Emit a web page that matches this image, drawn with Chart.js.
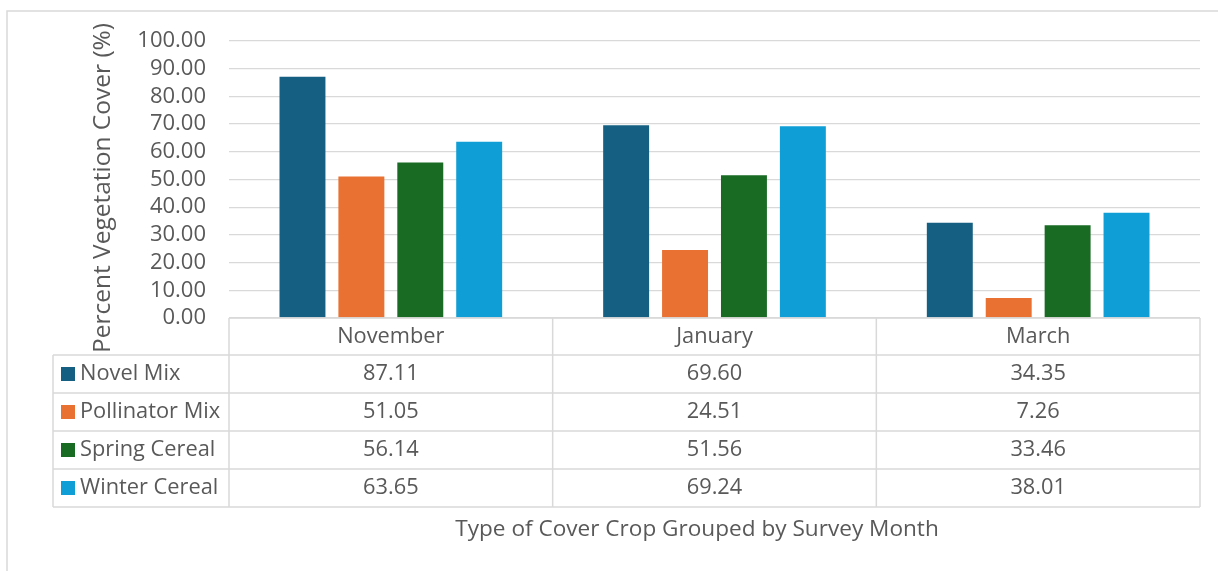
<!DOCTYPE html>
<html lang="en">
<head>
  <meta charset="UTF-8">
  <title>Percent Vegetation Cover</title>
  <script src="https://cdn.jsdelivr.net/npm/chart.js"></script>
  <style>
    html, body { margin: 0; padding: 0; background: #fff; }
    canvas { display: block; }
  </style>
</head>
<body>
  <canvas id="coverChart" width="1218" height="571"></canvas>

  <script>
    // Survey months (categories) and one array per cover crop type
    const months = ['November', 'January', 'March'];
    const seriesNames = ['Novel Mix', 'Pollinator Mix', 'Spring Cereal', 'Winter Cereal'];
    const novelMix = [87.11, 69.60, 34.35];
    const pollinatorMix = [51.05, 24.51, 7.26];
    const springCereal = [56.14, 51.56, 33.46];
    const winterCereal = [63.65, 69.24, 38.01];
    const seriesColors = ['#156082', '#E97132', '#196B24', '#0F9ED5'];

    const yTitle = 'Percent Vegetation Cover (%)';
    const xTitle = 'Type of Cover Crop Grouped by Survey Month';

    const FONT = '"Open Sans", "DejaVu Sans", sans-serif';
    const TEXT = '#595959';
    const LINE = '#d9d9d9';

    const allSeries = [novelMix, pollinatorMix, springCereal, winterCereal];

    // Draws the outer frame, the axis titles and the data table under the plot
    const tablePlugin = {
      id: 'dataTable',
      beforeDraw(chart) {
        const c = chart.ctx;
        c.save();
        c.strokeStyle = LINE;
        c.lineWidth = 1.5;
        c.beginPath();
        c.moveTo(7, 571);
        c.lineTo(7, 11);
        c.lineTo(1218, 11);
        c.stroke();
        c.restore();
      },
      afterDraw(chart) {
        const c = chart.ctx;
        const area = chart.chartArea;
        const x = chart.scales.x;
        const colW = (area.right - area.left) / months.length;
        const headTop = area.bottom;
        const headH = 37;
        const rowH = 38;
        const rowsTop = headTop + headH;
        const tableBottom = rowsTop + rowH * seriesNames.length;
        const labelLeft = 53;

        c.save();
        c.strokeStyle = LINE;
        c.lineWidth = 1.5;
        c.beginPath();
        // header row top (axis line) and column dividers
        c.moveTo(area.left, headTop);
        c.lineTo(area.right, headTop);
        for (let i = 0; i <= months.length; i++) {
          const xx = area.left + i * colW;
          c.moveTo(xx, headTop);
          c.lineTo(xx, tableBottom);
        }
        c.moveTo(labelLeft, rowsTop);
        c.lineTo(labelLeft, tableBottom);
        for (let r = 0; r <= seriesNames.length; r++) {
          const yy = rowsTop + r * rowH;
          c.moveTo(labelLeft, yy);
          c.lineTo(area.right, yy);
        }
        c.stroke();

        c.fillStyle = TEXT;
        c.font = '21.8px ' + FONT;
        c.textBaseline = 'middle';
        c.textAlign = 'center';
        months.forEach((m, i) => {
          c.fillText(m, x.getPixelForValue(i), headTop + headH / 2);
        });

        seriesNames.forEach((name, r) => {
          const cy = rowsTop + r * rowH + rowH / 2;
          c.fillStyle = seriesColors[r];
          c.fillRect(61, cy - 7, 14, 14);
          c.fillStyle = TEXT;
          c.textAlign = 'left';
          c.fillText(name, 80, cy);
          c.textAlign = 'center';
          allSeries[r].forEach((v, i) => {
            c.fillText(v.toFixed(2), x.getPixelForValue(i), cy);
          });
        });

        // axis titles
        c.font = '22.6px ' + FONT;
        c.textAlign = 'center';
        c.fillText(xTitle, 697, 530);
        c.font = '24.5px ' + FONT;
        c.translate(103, 188);
        c.rotate(-Math.PI / 2);
        c.fillText(yTitle, 0, 0);
        c.restore();
      }
    };

    const ctx = document.getElementById('coverChart').getContext('2d');

    new Chart(ctx, {
      type: 'bar',
      data: {
        labels: months,
        datasets: seriesNames.map((name, i) => ({
          label: name,
          data: allSeries[i],
          backgroundColor: seriesColors[i],
          categoryPercentage: 0.728,
          barPercentage: 0.78
        }))
      },
      options: {
        responsive: false,
        animation: false,
        devicePixelRatio: 1,
        layout: {
          padding: { top: 41, right: 18, bottom: 253, left: 0 }
        },
        plugins: {
          legend: { display: false },
          tooltip: { enabled: false }
        },
        scales: {
          x: {
            display: false
          },
          y: {
            min: 0,
            max: 100,
            afterFit(scale) { scale.width = 229; },
            border: { display: false },
            grid: { color: LINE, lineWidth: 1.3, drawTicks: false },
            ticks: {
              stepSize: 10,
              autoSkip: false,
              padding: 23,
              color: TEXT,
              font: { family: FONT, size: 22 },
              callback: v => Number(v).toFixed(2)
            }
          }
        }
      },
      plugins: [tablePlugin]
    });
  </script>
</body>
</html>
